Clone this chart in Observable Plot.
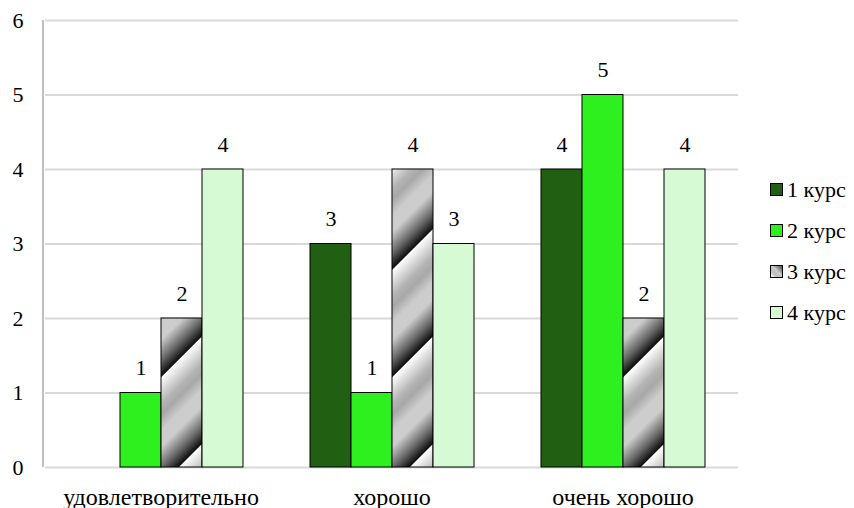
<!DOCTYPE html>
<html><head><meta charset="utf-8">
<script src="https://cdn.jsdelivr.net/npm/d3@7"></script>
<script src="https://cdn.jsdelivr.net/npm/@observablehq/plot@0.6"></script>
<style>
body{margin:0;background:#fff;}
#wrap{position:relative;width:854px;height:508px;font-family:"Liberation Serif","Times New Roman",serif;}
#legend{position:absolute;left:770px;top:169px;font-size:22px;color:#000;}
.li{display:flex;align-items:center;height:41px;}
.sw{width:11px;height:11px;border:1px solid #000;margin-right:4px;}
</style></head>
<body>
<svg width="0" height="0" style="position:absolute">
<defs>
<linearGradient id="g3" x1="0" x2="1" y1="0" y2="0">
<stop offset="0" stop-color="#ffffff"/>
<stop offset="0.25" stop-color="#b4b4b4"/>
<stop offset="0.35" stop-color="#a8a8a8"/>
<stop offset="0.5" stop-color="#cdcdcd"/>
<stop offset="0.65" stop-color="#cdcdcd"/>
<stop offset="0.85" stop-color="#666666"/>
<stop offset="1" stop-color="#0a0a0a"/>
</linearGradient>
<pattern id="p3" patternUnits="userSpaceOnUse" width="76" height="10" patternTransform="rotate(45)">
<rect width="76" height="10" fill="url(#g3)"/>
</pattern>
</defs>
</svg>
<div id="wrap"><div id="legend"></div></div>
<script>
const categories = ["удовлетворительно", "хорошо", "очень хорошо"];
const seriesNames = ["1 курс", "2 курс", "3 курс", "4 курс"];
const values1 = [0, 3, 4];
const values2 = [1, 1, 5];
const values3 = [2, 4, 2];
const values4 = [4, 3, 4];
const yTicks = [0, 1, 2, 3, 4, 5, 6];
const colors = ["#215f12", "#2ef01e", "url(#p3)", "#d6fad4"];
const legendColors = ["#215f12", "#2ef01e", "linear-gradient(45deg,#fff 0%,#bbb 30%,#ccc 55%,#444 100%)", "#d6fad4"];

const allVals = [values1, values2, values3, values4];
const data = [];
categories.forEach((c, i) => seriesNames.forEach((s, j) => data.push({cat: c, series: s, value: allVals[j][i], fill: colors[j]})));

const chart = Plot.plot({
  width: 854, height: 508,
  marginLeft: 44, marginRight: 115, marginTop: 20, marginBottom: 41,
  style: {fontFamily: "Liberation Serif, Times New Roman, serif", fontSize: "22px", background: "#fff", overflow: "visible"},
  fx: {domain: categories, padding: 0, label: null, axis: "bottom", tickSize: 0, tickPadding: 20},
  x: {domain: seriesNames, paddingInner: 0, paddingOuter: 0.76, axis: null},
  y: {domain: [0, 6], ticks: yTicks, tickFormat: "d", label: null, tickSize: 0, tickPadding: 22},
  color: {type: "identity"},
  marks: [
    Plot.ruleY(yTicks.filter(d => d > 0), {stroke: "#d9d9d9", strokeWidth: 2}),
    Plot.ruleY([0], {stroke: "#d9d9d9", strokeWidth: 2}),
    Plot.barY(data.filter(d => d.value > 0), {fx: "cat", x: "series", y: "value", fill: "fill", stroke: "#000", strokeWidth: 1, inset: 0}),
    Plot.text(data.filter(d => d.value > 0), {fx: "cat", x: "series", y: "value", text: d => String(d.value), dy: -25, fill: "#000", fontSize: 22})
  ]
});
const svg = d3.select(chart);
svg.append("line").attr("x1", 43).attr("x2", 43).attr("y1", 20).attr("y2", 467).attr("stroke", "#bfbfbf").attr("stroke-width", 2);
svg.selectAll("text").attr("fill", "#000");
svg.selectAll("[aria-label='fx-axis tick label'] text, [aria-label='fx-axis tick label']").attr("font-size", 24);
svg.selectAll("[aria-label='y-axis tick label']").attr("font-size", 22);
document.getElementById("wrap").prepend(chart);

const leg = document.getElementById("legend");
seriesNames.forEach((s, j) => {
  const li = document.createElement("div"); li.className = "li";
  const sw = document.createElement("div"); sw.className = "sw"; sw.style.background = legendColors[j];
  const t = document.createElement("span"); t.textContent = s;
  li.appendChild(sw); li.appendChild(t); leg.appendChild(li);
});
</script>
</body></html>
